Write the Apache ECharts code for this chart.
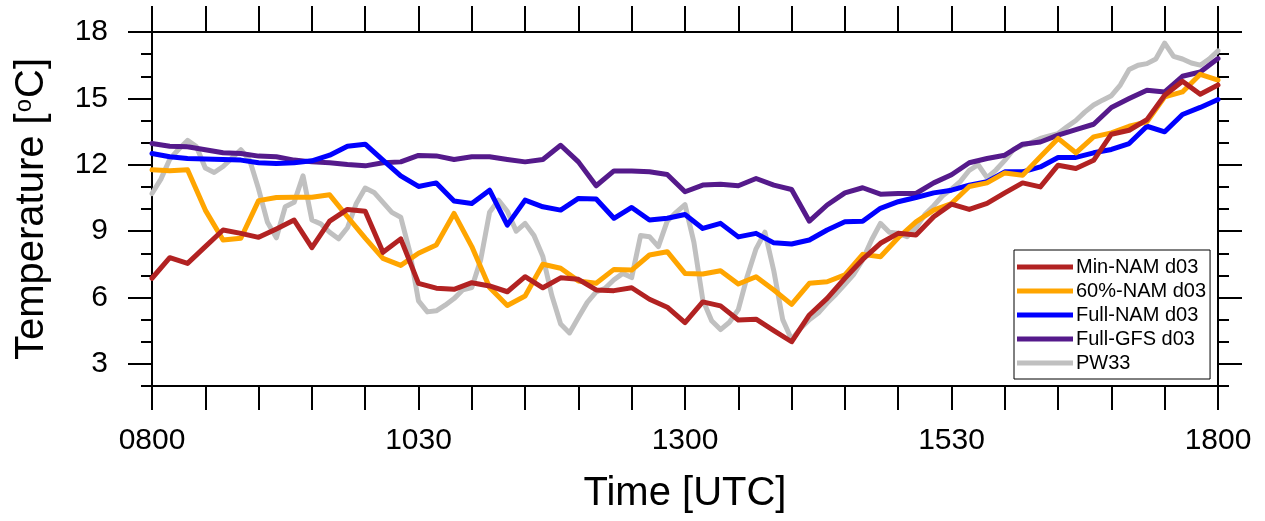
<!DOCTYPE html>
<html>
<head>
<meta charset="utf-8">
<script src="https://cdn.jsdelivr.net/npm/echarts@6/dist/echarts.min.js"></script>
<style>
html,body{margin:0;padding:0;background:#fff;}
#chart{width:1265px;height:521px;}
</style>
</head>
<body>
<div id="chart"></div>
<script>
// ---- data ----
const seriesNames = ['Min-NAM d03', '60%-NAM d03', 'Full-NAM d03', 'Full-GFS d03', 'PW33'];
const xTickLabels = ['0800', '1030', '1300', '1530', '1800'];
const yTickValues = [3, 6, 9, 12, 15, 18];
const modelStepMin = 10;   // model output every 10 minutes from 0800
const obsStepMin = 5;      // observations every 5 minutes from 0800

const minNAM = [6.87,7.8,7.54,8.3,9.05,8.9,8.72,9.1,9.5,8.25,9.45,9.98,9.9,8.04,8.65,6.64,6.42,6.37,6.67,6.52,
  6.26,6.94,6.44,6.89,6.82,6.34,6.31,6.44,5.92,5.56,4.86,5.8,5.62,4.98,5.02,4.5,4.0,5.21,5.96,6.87,
  7.72,8.45,8.9,8.82,9.65,10.22,9.98,10.25,10.73,11.18,11.0,11.98,11.83,12.2,13.38,13.56,14.04,15.14,15.77,15.19,15.6];
const nam60 = [11.77,11.73,11.77,9.95,8.6,8.68,10.38,10.52,10.53,10.53,10.64,9.65,8.68,7.77,7.45,8.0,8.37,9.8,8.3,6.45,
  5.64,6.07,7.5,7.32,6.75,6.64,7.27,7.24,7.92,8.07,7.09,7.06,7.21,6.61,6.94,6.34,5.69,6.64,6.71,7.02,
  7.95,7.84,8.7,9.42,9.95,10.25,11.02,11.18,11.63,11.53,12.36,13.19,12.54,13.26,13.44,13.74,13.94,15.07,15.29,16.09,15.82];
const fullNAM = [12.51,12.36,12.28,12.26,12.24,12.21,12.09,12.06,12.09,12.18,12.43,12.84,12.93,12.21,11.5,11.02,11.18,10.36,10.25,10.85,
  9.27,10.4,10.1,9.95,10.48,10.45,9.58,10.07,9.5,9.58,9.75,9.12,9.35,8.74,8.9,8.47,8.42,8.6,9.05,9.42,
  9.45,10.03,10.33,10.52,10.73,10.85,11.08,11.23,11.68,11.68,11.9,12.33,12.33,12.54,12.69,12.96,13.74,13.49,14.27,14.59,14.95];
const fullGFS = [12.96,12.84,12.81,12.68,12.54,12.51,12.39,12.36,12.21,12.13,12.09,12.01,11.95,12.09,12.13,12.42,12.4,12.24,12.36,12.36,
  12.24,12.13,12.24,12.88,12.13,11.05,11.72,11.72,11.68,11.56,10.78,11.08,11.12,11.05,11.38,11.08,10.88,9.45,10.18,10.73,
  10.96,10.67,10.7,10.7,11.18,11.55,12.09,12.28,12.43,12.93,13.03,13.34,13.59,13.83,14.59,14.99,15.37,15.29,16.0,16.19,16.8];
const pw33 = [10.7,11.35,12.25,12.7,13.1,12.82,11.85,11.65,11.92,12.3,12.68,12.2,10.9,9.4,8.7,10.1,10.3,11.5,9.5,9.33,
  8.95,8.65,9.15,10.25,10.95,10.75,10.3,9.85,9.63,8.1,5.85,5.35,5.4,5.65,5.95,6.35,6.45,7.7,9.85,10.4,
  9.9,9.0,9.35,8.8,7.85,6.1,4.8,4.4,5.1,5.78,6.25,6.42,6.8,7.09,6.9,8.8,8.75,8.3,9.45,9.85,
  10.2,8.5,5.9,4.95,4.55,4.88,5.45,6.95,8.2,8.95,7.2,5.0,4.1,4.6,5.0,5.3,5.75,6.15,6.6,7.05,
  7.7,8.6,9.35,8.95,8.9,8.75,9.15,9.75,10.15,10.6,10.9,11.25,11.75,12.0,11.42,11.76,12.2,12.7,12.88,13.0,
  13.19,13.3,13.41,13.72,14.0,14.38,14.7,14.92,15.12,15.6,16.3,16.5,16.57,16.78,17.5,16.9,16.78,16.6,16.5,16.78,17.15];

const colors = {
  'Min-NAM d03': '#B22222',
  '60%-NAM d03': '#FFA500',
  'Full-NAM d03': '#0000FF',
  'Full-GFS d03': '#551A8B',
  'PW33': '#C0C0C0'
};

function pairs(values, step) { return values.map((v, i) => [i * step, v]); }

const FONT = 'Liberation Sans, Arial, Helvetica, sans-serif';
const chart = echarts.init(document.getElementById('chart'), null, {renderer: 'canvas'});

const tickStyle = {color: '#000', width: 2};
const lineAxis = {show: true, lineStyle: {color: '#000', width: 2}};

function mkSeries(name, values, step) {
  return {
    name: name, type: 'line', data: pairs(values, step), showSymbol: false, symbol: 'none',
    xAxisIndex: 0, yAxisIndex: 0,
    lineStyle: {color: colors[name], width: 5, cap: 'round', join: 'round'},
    itemStyle: {color: colors[name]}, animation: false
  };
}

const yBase = {type: 'value', min: 2, max: 18, splitLine: {show: false}, axisLine: lineAxis};

chart.setOption({
  animation: false,
  backgroundColor: '#fff',
  grid: {left: 152, right: 47, top: 32, bottom: 135, containLabel: false},
  legend: {
    orient: 'vertical', left: 1014, top: 250,
    data: seriesNames,
    icon: 'rect', itemWidth: 56, itemHeight: 5, itemGap: 4,
    padding: [7, 4, 6, 3],
    borderColor: '#000', borderWidth: 1, backgroundColor: '#fff',
    textStyle: {fontFamily: FONT, fontSize: 20, color: '#000', lineHeight: 20, padding: [0, 0, 0, -2]}
  },
  xAxis: [
    {type: 'value', position: 'bottom', min: 0, max: 600, interval: 30,
      axisLine: lineAxis, splitLine: {show: false},
      axisTick: {show: true, inside: false, length: 24, lineStyle: tickStyle},
      axisLabel: {margin: 40, fontFamily: FONT, fontSize: 30, color: '#000',
        formatter: v => (v % 150 === 0 ? xTickLabels[v / 150] : '')},
      name: 'Time [UTC]', nameLocation: 'middle', nameGap: 88,
      nameTextStyle: {fontFamily: FONT, fontSize: 40, color: '#000'}},
    {type: 'value', position: 'top', min: 0, max: 600, interval: 30,
      axisLine: lineAxis, splitLine: {show: false},
      axisTick: {show: true, inside: false, length: 26, lineStyle: tickStyle},
      axisLabel: {show: false}}
  ],
  yAxis: [
    Object.assign({}, yBase, {position: 'left',
      axisTick: {show: true, inside: false, length: 24, lineStyle: tickStyle, customValues: yTickValues},
      axisLabel: {margin: 44, fontFamily: FONT, fontSize: 30, color: '#000', customValues: yTickValues,
        formatter: v => String(v)},
      name: 'Temperature [{sup|o}C]', nameLocation: 'middle', nameGap: 100, nameRotate: 90,
      nameTextStyle: {fontFamily: FONT, fontSize: 40, color: '#000',
        rich: {sup: {fontFamily: FONT, fontSize: 24, color: '#000', verticalAlign: 'top', padding: [0, 1, 16, 1]}}}}),
    Object.assign({}, yBase, {position: 'left', interval: 1,
      axisTick: {show: true, inside: false, length: 11, lineStyle: tickStyle},
      axisLabel: {show: false}}),
    Object.assign({}, yBase, {position: 'right',
      axisTick: {show: true, inside: false, length: 24, lineStyle: tickStyle, customValues: yTickValues},
      axisLabel: {show: false}}),
    Object.assign({}, yBase, {position: 'right', interval: 1,
      axisTick: {show: true, inside: false, length: 11, lineStyle: tickStyle},
      axisLabel: {show: false}})
  ],
  series: [
    mkSeries('PW33', pw33, obsStepMin),
    mkSeries('Full-GFS d03', fullGFS, modelStepMin),
    mkSeries('Full-NAM d03', fullNAM, modelStepMin),
    mkSeries('60%-NAM d03', nam60, modelStepMin),
    mkSeries('Min-NAM d03', minNAM, modelStepMin)
  ]
});
</script>
</body>
</html>
